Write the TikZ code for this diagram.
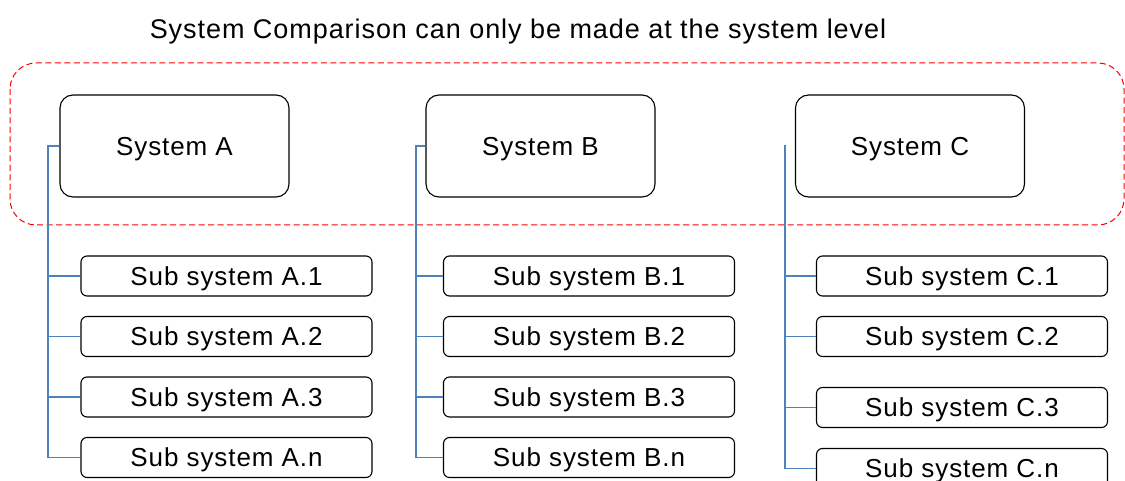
\documentclass[tikz,border=0pt]{standalone}
\usepackage{fontspec}
\setmainfont{Liberation Sans}[LetterSpace=3.5]
\begin{document}
\begin{tikzpicture}[x=1pt,y=-1pt,
  capfix/.style={text height=18.6pt, text depth=0pt},
  sysbox/.style={draw=black, line width=1.1pt, rounded corners=13pt, minimum width=229pt, minimum height=102pt, inner sep=0pt, capfix, font=\fontsize{26}{30}\selectfont},
  subbox/.style={draw=black, line width=1.1pt, rounded corners=6pt, minimum width=291pt, minimum height=40pt, inner sep=0pt, capfix, font=\fontsize{26}{30}\selectfont},
  link/.style={draw={rgb,255:red,79;green,129;blue,189}, line width=1.3pt},
  group/.style={draw=red, dashed, dash pattern=on 6pt off 3.5pt, line width=1pt, rounded corners=26pt}
]
\useasboundingbox (0,0) rectangle (1125,481);
\fill[white] (0,0) rectangle (1125,481);

\node[font=\fontsize{27}{32}\selectfont, text height=19.3pt, text depth=0pt, inner sep=0pt] (title) at (518,28.5) {System Comparison can only be made at the system level};

\draw[group] (10,63) rectangle (1124,225);

\node[sysbox] (sa) at (174.5,146) {System A};
\node[sysbox] (sb) at (540.5,146) {System B};
\node[sysbox] (sc) at (910,146) {System C};

\foreach \i/\y/\t in {1/276/1,2/336.5/2,3/397/3,4/457.5/n}{
  \node[subbox] (a\i) at (226.5,\y) {Sub system A.\t};
  \node[subbox] (b\i) at (589,\y) {Sub system B.\t};
}
\foreach \i/\y/\t in {1/276/1,2/336.5/2,3/407.5/3,4/468.5/n}{
  \node[subbox] (c\i) at (962,\y) {Sub system C.\t};
}

% tree A
\draw[link] (sa.west) -| (48,0 |- a4.west) -- (a4.west);
\foreach \i in {1,2,3}{ \draw[link] (48,0 |- a\i.west) -- (a\i.west); }
% tree B
\draw[link] (sb.west) -| (416,0 |- b4.west) -- (b4.west);
\foreach \i in {1,2,3}{ \draw[link] (416,0 |- b\i.west) -- (b\i.west); }
% tree C (free top end)
\coordinate (ctop) at (785,145);
\draw[link] (ctop) |- (c4.west);
\foreach \i in {1,2,3}{ \draw[link] (785,0 |- c\i.west) -- (c\i.west); }
\end{tikzpicture}
\end{document}
